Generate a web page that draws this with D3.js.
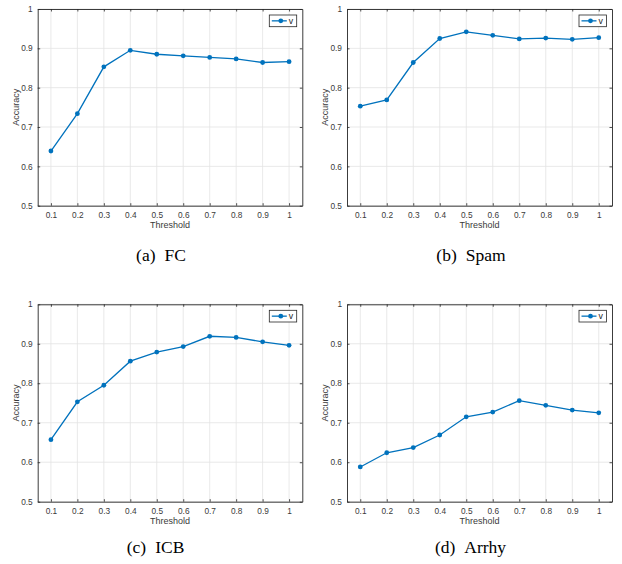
<!DOCTYPE html>
<html><head><meta charset="utf-8">
<script src="https://cdn.jsdelivr.net/npm/d3@7"></script>
<style>body{margin:0;background:#fff}svg{display:block}</style>
</head><body>
<script>
const thresholds = [0.1,0.2,0.3,0.4,0.5,0.6,0.7,0.8,0.9,1];
const xTickLabels = ["0.1","0.2","0.3","0.4","0.5","0.6","0.7","0.8","0.9","1"];
const yTicks = [0.5,0.6,0.7,0.8,0.9,1];
const yTickLabels = ["0.5","0.6","0.7","0.8","0.9","1"];
const fcValues    = [0.639,0.734,0.853,0.895,0.885,0.881,0.877,0.873,0.864,0.866];
const spamValues  = [0.753,0.769,0.864,0.925,0.942,0.933,0.924,0.926,0.923,0.927];
const icbValues   = [0.657,0.753,0.795,0.856,0.879,0.893,0.919,0.916,0.905,0.896];
const arrhyValues = [0.588,0.624,0.637,0.669,0.715,0.727,0.756,0.744,0.732,0.725];
const captionTags = ["(a)","(b)","(c)","(d)"];
const captionNames = ["FC","Spam","ICB","Arrhy"];
const seriesName = "v";

const panels = [
  {vals: fcValues,    left: 37.7, top: 9,     right: 302.3, bottom: 205.7, cx: 161, cy: 261},
  {vals: spamValues,  left: 347,  top: 9,     right: 612,   bottom: 205.7, cx: 471, cy: 261},
  {vals: icbValues,   left: 37.7, top: 304.3, right: 302.3, bottom: 501.7, cx: 155.5, cy: 553},
  {vals: arrhyValues, left: 347,  top: 304.3, right: 612,   bottom: 501.7, cx: 470.5, cy: 553}
];

const W = 622, H = 564;
const svg = d3.select("body").append("svg").attr("width", W).attr("height", H);
const axisColor = "#262626", gridColor = "#e3e3e3", lineColor = "#0072BD";
const tickFont = "'Liberation Sans', Arial, sans-serif";

panels.forEach((p, i) => {
  const x = d3.scaleLinear().domain([0.05, 1.05]).range([p.left, p.right]);
  const y = d3.scaleLinear().domain([0.5, 1]).range([p.bottom, p.top]);
  const g = svg.append("g");

  // grid
  g.append("g").selectAll("line").data(thresholds).join("line")
    .attr("x1", d => x(d)).attr("x2", d => x(d))
    .attr("y1", p.top).attr("y2", p.bottom)
    .attr("stroke", gridColor).attr("stroke-width", 0.8);
  g.append("g").selectAll("line").data(yTicks).join("line")
    .attr("x1", p.left).attr("x2", p.right)
    .attr("y1", d => y(d)).attr("y2", d => y(d))
    .attr("stroke", gridColor).attr("stroke-width", 0.8);

  // axes (inner ticks)
  const xAxB = d3.axisBottom(x).tickValues(thresholds).tickFormat((d, k) => xTickLabels[k]).tickSizeInner(-2.5).tickSizeOuter(0).tickPadding(6);
  const xAxT = d3.axisTop(x).tickValues(thresholds).tickFormat("").tickSizeInner(-2.5).tickSizeOuter(0);
  const yAxL = d3.axisLeft(y).tickValues(yTicks).tickFormat((d, k) => yTickLabels[k]).tickSizeInner(-2.5).tickSizeOuter(0).tickPadding(5);
  const yAxR = d3.axisRight(y).tickValues(yTicks).tickFormat("").tickSizeInner(-2.5).tickSizeOuter(0);

  const gb = g.append("g").attr("transform", `translate(0,${p.bottom})`).call(xAxB);
  const gt = g.append("g").attr("transform", `translate(0,${p.top})`).call(xAxT);
  const gl = g.append("g").attr("transform", `translate(${p.left},0)`).call(yAxL);
  const gr = g.append("g").attr("transform", `translate(${p.right},0)`).call(yAxR);
  [gb, gt, gl, gr].forEach(a => {
    a.select(".domain").attr("stroke", axisColor).attr("stroke-width", 0.9);
    a.selectAll(".tick line").attr("stroke", axisColor).attr("stroke-width", 0.8);
    a.selectAll("text").attr("fill", "#3a3a3a").style("font-family", tickFont).style("font-size", "8.3px");
  });

  // axis labels
  g.append("text").attr("x", (p.left + p.right) / 2).attr("y", p.bottom + 22)
    .attr("text-anchor", "middle").attr("fill", "#3a3a3a")
    .style("font-family", tickFont).style("font-size", "9px").text("Threshold");
  g.append("text").attr("transform", `translate(${p.left - 19},${(p.top + p.bottom) / 2}) rotate(-90)`)
    .attr("text-anchor", "middle").attr("fill", "#3a3a3a")
    .style("font-family", tickFont).style("font-size", "9px").text("Accuracy");

  // line
  const line = d3.line().x((d, k) => x(thresholds[k])).y(d => y(d));
  g.append("path").datum(p.vals).attr("d", line)
    .attr("fill", "none").attr("stroke", lineColor).attr("stroke-width", 1.3);
  g.append("g").selectAll("circle").data(p.vals).join("circle")
    .attr("cx", (d, k) => x(thresholds[k])).attr("cy", d => y(d)).attr("r", 2.4)
    .attr("fill", lineColor);

  // legend
  const lw = 27.4, lh = 11.7;
  const lx = p.right - 5.6 - lw, ly = p.top + 6;
  g.append("rect").attr("x", lx).attr("y", ly).attr("width", lw).attr("height", lh)
    .attr("fill", "#fff").attr("stroke", axisColor).attr("stroke-width", 0.8);
  g.append("line").attr("x1", lx + 2.5).attr("x2", lx + 17.5)
    .attr("y1", ly + lh / 2).attr("y2", ly + lh / 2)
    .attr("stroke", lineColor).attr("stroke-width", 1.3);
  g.append("circle").attr("cx", lx + 11.5).attr("cy", ly + lh / 2).attr("r", 2.4).attr("fill", lineColor);
  g.append("text").attr("x", lx + 19.5).attr("y", ly + lh / 2 + 3)
    .attr("fill", axisColor).style("font-family", tickFont).style("font-size", "8.8px").text(seriesName);

  // caption
  const cap = svg.append("text").attr("x", p.cx).attr("y", p.cy).attr("text-anchor", "middle")
    .style("font-family", "'Liberation Serif', 'Times New Roman', serif").style("font-size", "17.5px")
    .attr("fill", "#000");
  cap.append("tspan").text(captionTags[i]);
  cap.append("tspan").attr("dx", 9).text(captionNames[i]);
});
</script>
</body></html>
